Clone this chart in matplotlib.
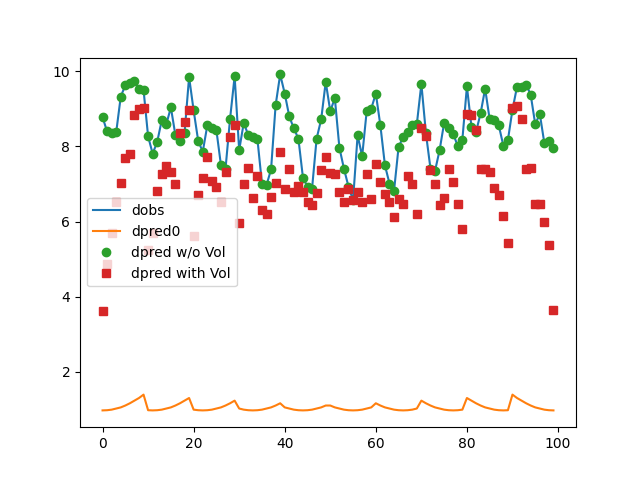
import matplotlib
matplotlib.use("Agg")
import matplotlib.pyplot as plt
import numpy as np

# observed data (also the prediction without volume term)
dobs = [8.78, 8.40, 8.37, 8.38, 9.33, 9.63, 9.70, 9.75, 9.54, 9.51,
        8.27, 7.81, 8.12, 8.70, 8.59, 9.04, 8.30, 8.15, 8.35, 9.85,
        8.96, 8.15, 7.86, 8.56, 8.48, 8.43, 7.50, 7.41, 8.74, 9.87,
        7.90, 8.63, 8.30, 8.24, 8.20, 7.01, 6.97, 7.39, 9.10, 9.92,
        9.41, 8.80, 8.48, 8.21, 7.17, 6.93, 6.88, 8.21, 8.72, 9.72,
        8.94, 9.29, 7.97, 7.41, 6.93, 6.57, 8.30, 7.74, 8.95, 9.01,
        9.41, 8.56, 7.50, 7.01, 6.82, 7.99, 8.25, 8.39, 8.56, 8.59,
        9.67, 8.35, 7.41, 7.35, 7.90, 8.63, 8.50, 8.33, 8.01, 8.18,
        9.60, 8.52, 8.39, 8.88, 9.54, 8.72, 8.70, 8.56, 8.02, 8.17,
        8.98, 9.59, 9.58, 9.65, 9.38, 8.59, 8.87, 8.09, 8.14, 7.97]

dpred0 = [0.97, 0.975, 0.99, 1.02, 1.05, 1.10, 1.16, 1.23, 1.30, 1.39,
          0.975, 0.97, 0.975, 0.99, 1.02, 1.05, 1.10, 1.16, 1.23, 1.30,
          0.99, 0.975, 0.97, 0.975, 0.99, 1.02, 1.05, 1.10, 1.16, 1.23,
          1.02, 0.99, 0.975, 0.97, 0.975, 0.99, 1.02, 1.05, 1.10, 1.16,
          1.05, 1.02, 0.99, 0.975, 0.97, 0.975, 0.99, 1.02, 1.05, 1.10,
          1.10, 1.05, 1.02, 0.99, 0.975, 0.97, 0.975, 0.99, 1.02, 1.05,
          1.16, 1.10, 1.05, 1.02, 0.99, 0.975, 0.97, 0.975, 0.99, 1.02,
          1.23, 1.16, 1.10, 1.05, 1.02, 0.99, 0.975, 0.97, 0.975, 0.99,
          1.30, 1.23, 1.16, 1.10, 1.05, 1.02, 0.99, 0.975, 0.97, 0.975,
          1.39, 1.30, 1.23, 1.16, 1.10, 1.05, 1.02, 0.99, 0.975, 0.97]

dpred_vol = [3.62, 4.87, 5.69, 6.53, 7.03, 7.70, 7.80, 8.83, 9.00, 9.03,
             5.24, 5.70, 6.81, 7.28, 7.48, 7.33, 7.00, 8.36, 8.66, 8.98,
             5.62, 6.70, 7.15, 7.72, 7.09, 6.93, 6.53, 7.33, 8.25, 8.56,
             5.95, 7.00, 7.44, 6.62, 7.21, 6.31, 6.20, 6.66, 7.03, 7.84,
             6.88, 7.41, 6.79, 6.94, 6.79, 6.53, 6.44, 6.75, 7.37, 7.72,
             7.30, 7.26, 6.79, 6.53, 6.86, 6.57, 6.79, 6.53, 7.26, 6.59,
             7.53, 7.05, 6.73, 6.53, 6.11, 6.59, 6.47, 7.21, 6.99, 6.20,
             8.48, 8.27, 7.37, 7.01, 6.43, 6.63, 7.40, 7.05, 6.48, 5.79,
             8.86, 8.83, 8.43, 7.41, 7.41, 7.31, 6.89, 6.72, 6.15, 5.44,
             9.03, 9.08, 8.72, 7.41, 7.44, 6.47, 6.48, 5.98, 5.37, 3.65]

idx = np.arange(len(dobs))

plt.figure(figsize=(6.4, 4.8), dpi=100)
plt.plot(idx, dobs, label="dobs")
plt.plot(idx, dpred0, label="dpred0")
plt.plot(idx, dobs, 'o', label="dpred w/o Vol")
plt.plot(idx, dpred_vol, 's', label="dpred with Vol")
plt.legend(loc="center left")
plt.savefig("out.png")
